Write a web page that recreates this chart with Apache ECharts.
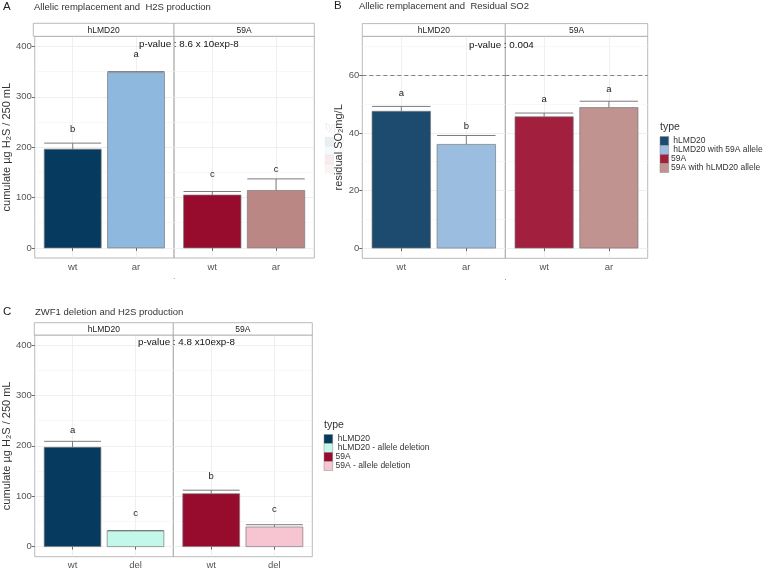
<!DOCTYPE html>
<html>
<head>
<meta charset="utf-8">
<script src="https://cdn.jsdelivr.net/npm/echarts@6/dist/echarts.min.js"></script>
<style>
html, body { margin: 0; padding: 0; background: #fff; }
#main { width: 764px; height: 576px; }
</style>
</head>
<body>
<div id="main"></div>
<script>
// values: order is hLMD20 wt, hLMD20 mutant, 59A wt, 59A mutant
var strains = ['hLMD20', '59A'];
var arGroups = ['wt', 'ar'];
var delGroups = ['wt', 'del'];

// A - allelic replacement, H2S
var h2sArMean = [196, 348, 105, 114];
var h2sArErr = [12, 2, 7, 23];
var h2sArLetter = ['b', 'a', 'c', 'c'];
var h2sArLetterY = [236, 385, 145, 155];
var h2sArPvalue = 'p-value : 8.6 x 10exp-8';

// B - allelic replacement, residual SO2
var so2Mean = [47.5, 36.0, 45.6, 48.8];
var so2Err = [1.7, 3.1, 1.3, 2.2];
var so2Letter = ['a', 'b', 'a', 'a'];
var so2LetterY = [53.7, 42.1, 51.7, 55.1];
var so2Limit = 60;
var so2Pvalue = 'p-value : 0.004';

// C - ZWF1 deletion, H2S
var h2sDelMean = [197, 31, 105, 39];
var h2sDelErr = [12, 1, 7, 4.5];
var h2sDelLetter = ['a', 'c', 'b', 'c'];
var h2sDelLetterY = [231, 65, 140, 73];
var h2sDelPvalue = 'p-value : 4.8 x10exp-8';

var h2sTicks = [0, 100, 200, 300, 400];
var h2sMinor = [50, 150, 250, 350];
var so2Ticks = [0, 20, 40, 60];
var so2Minor = [10, 30, 50, 70];

var arTypes = [' hLMD20', ' hLMD20 with 59A allele', '59A', '59A with hLMD20 allele'];
var delTypes = [' hLMD20', ' hLMD20 - allele deletion', '59A', '59A - allele deletion'];

// colours
var colA = ['#063a5e', '#8fb8df', '#970c2c', '#bb8785'];
var colB = ['#1d4b6f', '#9bbde0', '#a21f3e', '#c09290'];
var colC = ['#063a5e', '#c2f7e9', '#970c2c', '#f7c5d1'];

var FONT = '"Liberation Sans", Arial, sans-serif';
var BORDER = '#a8a8a8';
var GRID = '#ebebeb';

var panels = [
  { tag: 'A', title: 'Allelic remplacement and  H2S production', tagX: 3, titleX: 34, titleY: 7,
    left: 33.3, mid: 174, right: 314.3, top: 36.3, bottom: 258, strip: 23.3,
    min: -20, max: 420, ticks: h2sTicks, minor: h2sMinor, groups: arGroups,
    mean: h2sArMean, err: h2sArErr, letter: h2sArLetter, letterY: h2sArLetterY, colors: colA,
    yName: 'cumulate µg H₂S / 250 mL', nameGap: 20, pval: h2sArPvalue, pX: 139, pY: 44 },
  { tag: 'B', title: 'Allelic remplacement and  Residual SO2', tagX: 334, titleX: 359, titleY: 6,
    left: 362.3, mid: 505.3, right: 647.7, top: 36.3, bottom: 258.3, strip: 23.6,
    min: -3.55, max: 73.55, ticks: so2Ticks, minor: so2Minor, groups: arGroups,
    mean: so2Mean, err: so2Err, letter: so2Letter, letterY: so2LetterY, colors: colB, limit: so2Limit,
    yName: 'residual SO₂mg/L', nameGap: 17, pval: so2Pvalue, pX: 469, pY: 45 },
  { tag: 'C', title: 'ZWF1 deletion and H2S production', tagX: 3, titleX: 35, titleY: 312,
    left: 34.3, mid: 173.3, right: 312.3, top: 335, bottom: 556.7, strip: 322.7,
    min: -20, max: 420, ticks: h2sTicks, minor: h2sMinor, groups: delGroups,
    mean: h2sDelMean, err: h2sDelErr, letter: h2sDelLetter, letterY: h2sDelLetterY, colors: colC,
    yName: 'cumulate µg H₂S / 250 mL', nameGap: 20, pval: h2sDelPvalue, pX: 138, pY: 342.3 }
];

var grids = [], xAxes = [], yAxes = [], series = [], graphics = [];

function makeRender(p, f) {
  return function (params, api) {
    var k = f * 2 + params.dataIndex;
    var x = api.value(0), m = api.value(1), e = api.value(2), ly = api.value(3);
    var base = api.coord([x - 0.45, 0]);
    var tip = api.coord([x + 0.45, m]);
    var c0 = api.coord([x - 0.45, m + e]);
    var c1 = api.coord([x + 0.45, m + e]);
    var mid = api.coord([x, m]);
    var lab = api.coord([x, ly]);
    return {
      type: 'group',
      children: [
        { type: 'line', shape: { x1: mid[0], y1: mid[1], x2: mid[0], y2: c0[1] }, style: { stroke: '#7c7c7c', lineWidth: 1 } },
        { type: 'line', shape: { x1: c0[0], y1: c0[1], x2: c1[0], y2: c1[1] }, style: { stroke: '#7c7c7c', lineWidth: 1 } },
        { type: 'rect', shape: { x: base[0], y: tip[1], width: tip[0] - base[0], height: base[1] - tip[1] },
          style: { fill: p.colors[k], stroke: '#7a7a7a', lineWidth: 0.7 } },
        { type: 'text', x: lab[0], y: lab[1],
          style: { text: p.letter[k], align: 'center', verticalAlign: 'middle', fontSize: 9.5, fill: '#222', fontFamily: FONT } }
      ]
    };
  };
}

panels.forEach(function (p) {
  var xs = [p.left, p.mid], ws = [p.mid - p.left, p.right - p.mid];
  for (var f = 0; f < 2; f++) {
    var gi = grids.length;
    grids.push({ left: xs[f], top: p.top, width: ws[f], height: p.bottom - p.top, show: true,
      borderColor: BORDER, borderWidth: 0.8, backgroundColor: 'rgba(0,0,0,0)' });
    (function (groups) {
      xAxes.push({ gridIndex: gi, type: 'value', min: 0.4, max: 2.6,
        axisLine: { show: false },
        axisTick: { show: true, customValues: [1, 2], length: 3, lineStyle: { color: '#444', width: 0.8 } },
        axisLabel: { customValues: [1, 2], formatter: function (v) { return groups[Math.round(v) - 1]; },
          fontSize: 9.5, color: '#555', margin: 4, fontFamily: FONT },
        splitLine: { show: true, lineStyle: { color: GRID, width: 0.8 } } });
    })(p.groups);
    yAxes.push({ gridIndex: gi, type: 'value', min: p.min, max: p.max,
      axisLine: { show: false },
      axisTick: { show: f === 0, customValues: p.ticks, length: 3, lineStyle: { color: '#444', width: 0.8 } },
      axisLabel: { show: f === 0, customValues: p.ticks, fontSize: 9.5, color: '#555', margin: 3, fontFamily: FONT },
      splitLine: { show: true, lineStyle: { color: GRID, width: 0.8 } },
      name: f === 0 ? p.yName : '', nameLocation: 'middle', nameGap: p.nameGap, nameRotate: 90,
      nameTextStyle: { fontSize: 11, color: '#333', fontFamily: FONT } });

    var lines = p.minor.map(function (v) {
      return { yAxis: v, lineStyle: { color: '#f4f4f4', width: 0.6, type: 'solid' } };
    });
    if (p.limit != null) {
      lines.push({ yAxis: p.limit, lineStyle: { color: '#666', width: 0.8, type: [4, 3] } });
    }
    var data = [];
    for (var j = 0; j < 2; j++) {
      var k = f * 2 + j;
      data.push([j + 1, p.mean[k], p.err[k], p.letterY[k]]);
    }
    series.push({ type: 'custom', xAxisIndex: gi, yAxisIndex: gi, z: 3, data: data,
      renderItem: makeRender(p, f), animation: false,
      markLine: { silent: true, z: 1, symbol: ['none', 'none'], label: { show: false }, animation: false, data: lines } });

    // facet strip
    graphics.push({ type: 'rect', shape: { x: xs[f], y: p.strip, width: ws[f], height: p.top - p.strip },
      style: { fill: '#fff', stroke: BORDER, lineWidth: 0.8 }, z: 10 });
    graphics.push({ type: 'text', x: xs[f] + ws[f] / 2, y: (p.strip + p.top) / 2 + 0.5, z: 11,
      style: { text: strains[f], align: 'center', verticalAlign: 'middle', fontSize: 8.5, fill: '#1a1a1a', fontFamily: FONT } });
  }
  graphics.push({ type: 'text', x: p.tagX, y: p.titleY, z: 11,
    style: { text: p.tag, verticalAlign: 'middle', fontSize: 11.5, fill: '#222', fontFamily: FONT } });
  graphics.push({ type: 'text', x: p.titleX, y: p.titleY, z: 11,
    style: { text: p.title, verticalAlign: 'middle', fontSize: 9.5, fill: '#333', fontFamily: FONT } });
  graphics.push({ type: 'text', x: p.pX, y: p.pY, z: 11,
    style: { text: p.pval, verticalAlign: 'middle', fontSize: 9.8, fill: '#111', fontFamily: FONT } });
  graphics.push({ type: 'text', x: p.mid, y: p.bottom + 19, z: 11,
    style: { text: '.', align: 'center', verticalAlign: 'middle', fontSize: 8, fill: '#555', fontFamily: FONT } });
});

function addLegend(x, y, names, colors, labelX, opacity, clipW) {
  var g = { type: 'group', z: 12, children: [] };
  g.children.push({ type: 'text', x: x, y: y, style: { text: 'type', verticalAlign: 'middle', fontSize: 10.5, fill: '#333', fontFamily: FONT, opacity: opacity } });
  names.forEach(function (n, i) {
    var ky = y + 9.5 + i * 9;
    g.children.push({ type: 'rect', shape: { x: x, y: ky, width: 8.7, height: 9 },
      style: { fill: colors[i], stroke: '#8a8a8a', lineWidth: 0.5, opacity: opacity } });
    var st = { text: n, verticalAlign: 'middle', fontSize: 8.5, fill: '#333', fontFamily: FONT, opacity: opacity };
    if (clipW) { st.width = clipW; st.overflow = 'truncate'; st.ellipsis = ''; }
    g.children.push({ type: 'text', x: labelX, y: ky + 4.5, style: st });
  });
  graphics.push(g);
}
addLegend(660, 127, arTypes, colB, 671, 1);
addLegend(324, 425, delTypes, colC, 335.5, 1);
// faint leftover legend from panel A, mostly hidden behind panel B
addLegend(325, 127.5, arTypes, colB, 337, 0.09, 9);

var chart = echarts.init(document.getElementById('main'), null, { renderer: 'canvas' });
chart.setOption({
  backgroundColor: '#fff',
  animation: false,
  grid: grids,
  xAxis: xAxes,
  yAxis: yAxes,
  series: series,
  graphic: graphics
});
</script>
</body>
</html>
